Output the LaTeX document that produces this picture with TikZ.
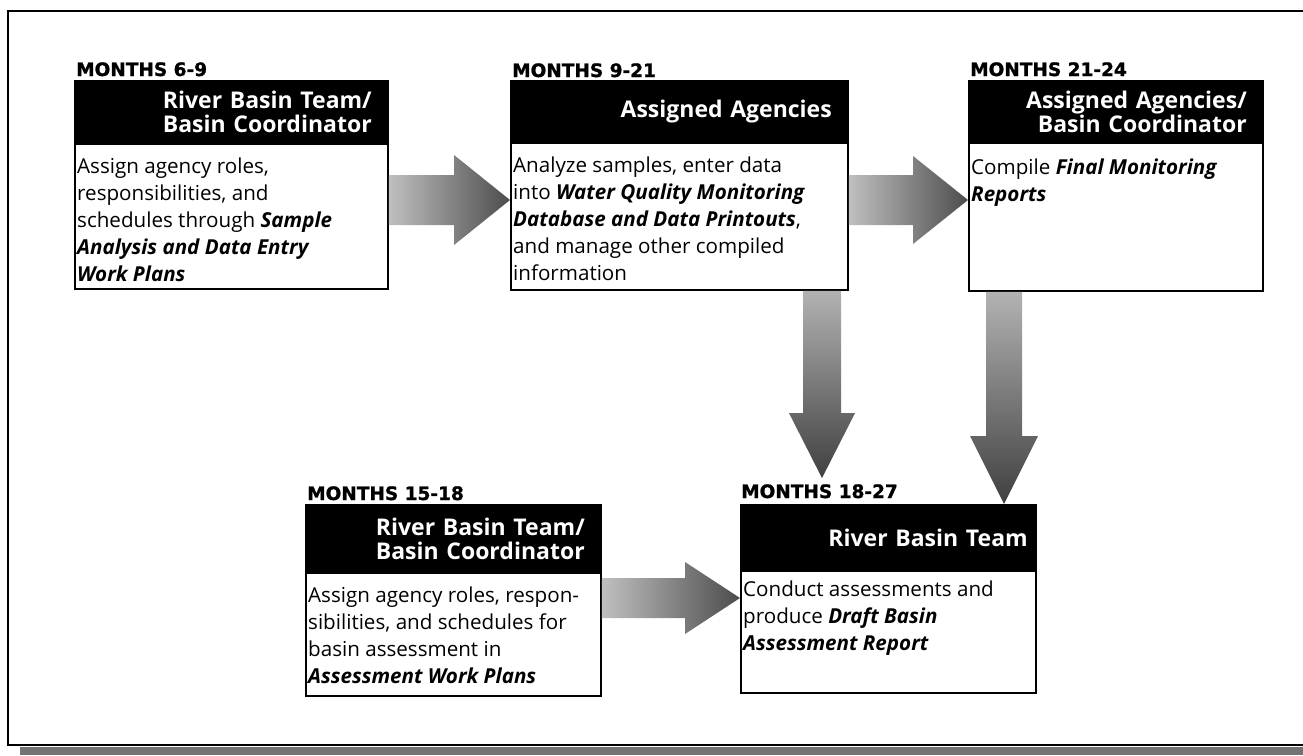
\documentclass[tikz,border=0pt]{standalone}
\usepackage{fontspec}
\setmainfont{Open Sans}
\newfontfamily\hdrfont{Open Sans}
\newfontfamily\ttlfont{DejaVu Sans}[BoldFeatures={FakeBold=1.2}]
\usetikzlibrary{calc}

\newcommand\doc[1]{\textbf{\textit{#1}}}

% fat block arrows: options, tail, tip, shaft half width, head half width, head length
\newcommand\fatH[6]{%
  \path[#1] let \p1=(#2), \p2=(#3) in
    (\x1,\y2+#4) -- (\x2-#6,\y2+#4) -- (\x2-#6,\y2+#5) -- (\x2,\y2)
    -- (\x2-#6,\y2-#5) -- (\x2-#6,\y2-#4) -- (\x1,\y2-#4) -- cycle;}
\newcommand\fatV[6]{%
  \path[#1] let \p1=(#2), \p2=(#3) in
    (\x2-#4,\y1) -- (\x2-#4,\y2+#6) -- (\x2-#5,\y2+#6) -- (\x2,\y2)
    -- (\x2+#5,\y2+#6) -- (\x2+#4,\y2+#6) -- (\x2+#4,\y1) -- cycle;}

\tikzset{
  hdr/.style={fill=black, draw=black, line width=1.5pt, text=white,
    font=\hdrfont\bfseries\fontsize{23}{24}\selectfont, align=right,
    inner xsep=16pt, inner ysep=0pt, anchor=north west},
  bodybox/.style={draw=black, fill=white, line width=1.8pt, anchor=north west, inner sep=0pt},
  bodytext/.style={font=\fontsize{20.6}{27}\selectfont, align=left, anchor=north west, inner sep=0pt},
  ttl/.style={font=\ttlfont\bfseries\fontsize{18.5}{18.5}\selectfont, anchor=base west, inner sep=0pt},
  hflow/.style={left color=black!25, right color=black!70, draw=none},
  vflow/.style={top color=black!30, bottom color=black!75, draw=none},
}

\begin{document}
\begin{tikzpicture}[x=1pt, y=-1pt]
\useasboundingbox (0,0) rectangle (1303,755);

% page frame and shadow strip
\fill[black!55] (20,747) rectangle (1303,755);
\draw[line width=2pt] (1303,11) -- (8,11) -- (8,745) -- (1303,745);

% ---- Months 6-9
\node[ttl] (t1) at (76,76) {MONTHS 6-9};
\node[hdr, text width=281pt, minimum height=63pt] (h1) at (74,80) {River Basin Team/\\Basin Coordinator};
\node[bodybox, minimum width=313pt, minimum height=145pt] (b1) at (74,143) {};
\node[bodytext] at ($(b1.north west)+(3,15)$)
  {Assign agency roles,\\responsibilities, and\\schedules through \doc{Sample}\\\doc{Analysis and Data Entry}\\\doc{Work Plans}};

% ---- Months 9-21
\node[ttl] (t2) at (512,77) {MONTHS 9-21};
\node[hdr, text width=305pt, minimum height=62pt] (h2) at (510,80) {Assigned Agencies};
\node[bodybox, minimum width=337pt, minimum height=147pt] (b2) at (510,142) {};
\node[bodytext] at ($(b2.north west)+(3,15)$)
  {Analyze samples, enter data\\into \doc{Water Quality Monitoring}\\\doc{Database and Data Printouts},\\and manage other compiled\\information};

% ---- Months 21-24
\node[ttl] (t3) at (970,76) {MONTHS 21-24};
\node[hdr, text width=262pt, minimum height=62pt] (h3) at (968,80) {Assigned Agencies/\\Basin Coordinator};
\node[bodybox, minimum width=294pt, minimum height=148pt] (b3) at (968,142) {};
\node[bodytext] at ($(b3.north west)+(3,17)$)
  {Compile \doc{Final Monitoring}\\\doc{Reports}};

% ---- Months 15-18
\node[ttl] (t4) at (307,500) {MONTHS 15-18};
\node[hdr, text width=263pt, minimum height=68pt] (h4) at (305,504) {River Basin Team/\\Basin Coordinator};
\node[bodybox, minimum width=295pt, minimum height=123pt] (b4) at (305,572) {};
\node[bodytext] at ($(b4.north west)+(3,15)$)
  {Assign agency roles, respon-\\sibilities, and schedules for\\basin assessment in\\\doc{Assessment Work Plans}};

% ---- Months 18-27
\node[ttl] (t5) at (741,498) {MONTHS 18-27};
\node[hdr, text width=279pt, minimum height=66pt, inner xsep=8pt] (h5) at (740,504) {River Basin Team};
\node[bodybox, minimum width=295pt, minimum height=122pt] (b5) at (740,570) {};
\node[bodytext] at ($(b5.north west)+(3,11)$)
  {Conduct assessments and\\produce \doc{Draft Basin}\\\doc{Assessment Report}};

% ---- flow arrows
\fatH{hflow}{b1.east |- 0,200}{b2.west |- 0,200}{25pt}{45pt}{56pt}
\fatH{hflow}{b2.east |- 0,200}{b3.west |- 0,200}{25pt}{44pt}{55pt}
\fatH{hflow}{b4.east |- 0,598}{b5.west |- 0,598}{20pt}{36pt}{55pt}
\fatV{vflow}{b2.south -| 822,0}{$(t5.north -| 822,0)+(0,-6)$}{19pt}{33pt}{65pt}
\fatV{vflow}{b3.south -| 1004,0}{h5.north -| 1004,0}{18pt}{34pt}{68pt}
\end{tikzpicture}
\end{document}
